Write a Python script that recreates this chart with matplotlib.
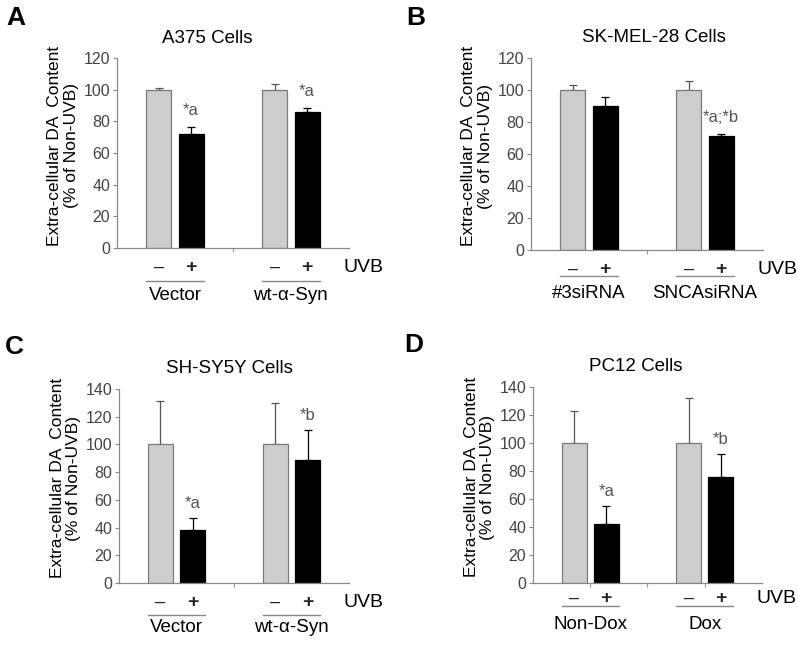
import numpy as np
import matplotlib
matplotlib.use('Agg')
import matplotlib.pyplot as plt
from matplotlib.transforms import ScaledTranslation

plt.rcParams['font.family'] = ['Liberation Sans', 'DejaVu Sans']

# ---- data ----
panel_letters = ['A', 'B', 'C', 'D']
titles = ['A375 Cells', 'SK-MEL-28 Cells', 'SH-SY5Y Cells', 'PC12 Cells']
groups_A = ['Vector', 'wt-\u03b1-Syn']
groups_B = ['#3siRNA', 'SNCAsiRNA']
groups_C = ['Vector', 'wt-\u03b1-Syn']
groups_D = ['Non-Dox', 'Dox']

# non-UVB (gray) and UVB (black) means per group, with SEM (upper only)
ctrl_A = [100, 100];   ctrl_err_A = [1.3, 3.5]
uvb_A = [72, 86];      uvb_err_A = [4.6, 2.3]
ctrl_B = [100, 100];   ctrl_err_B = [3.5, 6]
uvb_B = [90, 71.5];    uvb_err_B = [6, 1]
ctrl_C = [100, 100];   ctrl_err_C = [31, 30]
uvb_C = [38, 88.5];    uvb_err_C = [8.7, 22]
ctrl_D = [100, 100];   ctrl_err_D = [23, 32]
uvb_D = [42, 76];      uvb_err_D = [13, 16]

sig_A = ['*a', '*a']
sig_B = ['', '*a;*b']
sig_C = ['*a', '*b']
sig_D = ['*a', '*b']

ymax = [120, 120, 140, 140]
ylabel = 'Extra-cellular DA  Content\n(% of Non-UVB)'

panels = [
    (groups_A, ctrl_A, ctrl_err_A, uvb_A, uvb_err_A, sig_A),
    (groups_B, ctrl_B, ctrl_err_B, uvb_B, uvb_err_B, sig_B),
    (groups_C, ctrl_C, ctrl_err_C, uvb_C, uvb_err_C, sig_C),
    (groups_D, ctrl_D, ctrl_err_D, uvb_D, uvb_err_D, sig_D),
]

# axes rectangles (figure fraction) and text placement
rects = [
    [0.1466, 0.616, 0.2905, 0.294],
    [0.6654, 0.613, 0.2907, 0.297],
    [0.1491, 0.0975, 0.2882, 0.3003],
    [0.6679, 0.0975, 0.2870, 0.3034],
]
title_x = [0.39, 0.53, 0.48, 0.45]
letter_pos = [(0.020, 0.972), (0.521, 0.972), (0.018, 0.463), (0.519, 0.466)]
bottom_ticks = [[2], [2], [2], [1, 2, 3]]
# offsets below the x axis in points: (+/- row, underline, group label)
below = [(13.7, 23.5, 34), (13.7, 19, 31), (13.7, 23, 32), (11, 16.5, 30)]

fig = plt.figure(figsize=(7.98, 6.46), dpi=100)

gray_fill = '#cdcdcd'
gray_edge = '#7a7a7a'
txt_gray = '#444444'

for i, (groups, ctrl, ctrl_err, uvb, uvb_err, sig) in enumerate(panels):
    ax = fig.add_axes(rects[i])
    centers = np.array([1.0, 3.0])
    off = 0.28
    w = 0.43
    ax.bar(centers - off, ctrl, width=w, color=gray_fill, edgecolor=gray_edge,
           linewidth=0.9, zorder=2)
    ax.bar(centers + off, uvb, width=w, color='black', edgecolor='black',
           linewidth=0.9, zorder=2)
    ax.errorbar(centers - off, ctrl, yerr=[np.zeros(2), ctrl_err], fmt='none',
                ecolor='#555555', elinewidth=0.9, capsize=3, capthick=0.9, zorder=1)
    ax.errorbar(centers + off, uvb, yerr=[np.zeros(2), uvb_err], fmt='none',
                ecolor='black', elinewidth=0.9, capsize=3, capthick=0.9, zorder=1)

    for c, v, e, s in zip(centers + off, uvb, uvb_err, sig):
        if s:
            ax.text(c, v + e + 10.5, s, ha='center', va='center', fontsize=12,
                    color='#555555')

    ax.set_xlim(0, 4)
    ax.set_ylim(0, ymax[i])
    ax.set_yticks(np.arange(0, ymax[i] + 1, 20))
    ax.set_xticks(bottom_ticks[i])
    ax.set_xticklabels([])
    ax.tick_params(axis='x', length=3, color='#999999', direction='out')
    ax.tick_params(axis='y', length=3, color='#888888', labelsize=11.5,
                   labelcolor=txt_gray, pad=2)
    for sp in ['top', 'right']:
        ax.spines[sp].set_visible(False)
    for sp in ['left', 'bottom']:
        ax.spines[sp].set_color('#888888')
        ax.spines[sp].set_linewidth(0.9)

    ax.set_ylabel(ylabel, fontsize=12.5, linespacing=1.12, color='black')
    ax.yaxis.set_label_coords(-0.165, 0.54)

    ax.text(title_x[i], 1.105, titles[i], transform=ax.transAxes, ha='center',
            va='center', fontsize=13.5)

    xt = ax.get_xaxis_transform()
    d_sign, d_line, d_lab = below[i]
    for c in centers:
        ax.annotate('\u2013', xy=(c - off, 0), xycoords=xt, xytext=(0, -d_sign),
                    textcoords='offset points', ha='center', va='center',
                    fontsize=13, color='#222222', annotation_clip=False)
        ax.annotate('+', xy=(c + off, 0), xycoords=xt, xytext=(0, -d_sign),
                    textcoords='offset points', ha='center', va='center',
                    fontsize=14, fontweight='bold', color='#222222',
                    annotation_clip=False)
    ax.annotate('UVB', xy=(3.9, 0), xycoords=xt, xytext=(0, -d_sign),
                textcoords='offset points', ha='left', va='center',
                fontsize=14, annotation_clip=False)
    for c, g in zip(centers, groups):
        line = plt.Line2D([c - 0.5, c + 0.5], [0, 0], color='#888888', lw=1.0,
                          clip_on=False)
        line.set_transform(xt + ScaledTranslation(0, -d_line / 72, fig.dpi_scale_trans))
        ax.add_line(line)
        ax.annotate(g, xy=(c, 0), xycoords=xt, xytext=(0, -d_lab),
                    textcoords='offset points', ha='center', va='center',
                    fontsize=13.5, annotation_clip=False)

    fig.text(letter_pos[i][0], letter_pos[i][1], panel_letters[i], ha='center',
             va='center', fontsize=19, fontweight='bold')

fig.savefig('out.png', dpi=100)
